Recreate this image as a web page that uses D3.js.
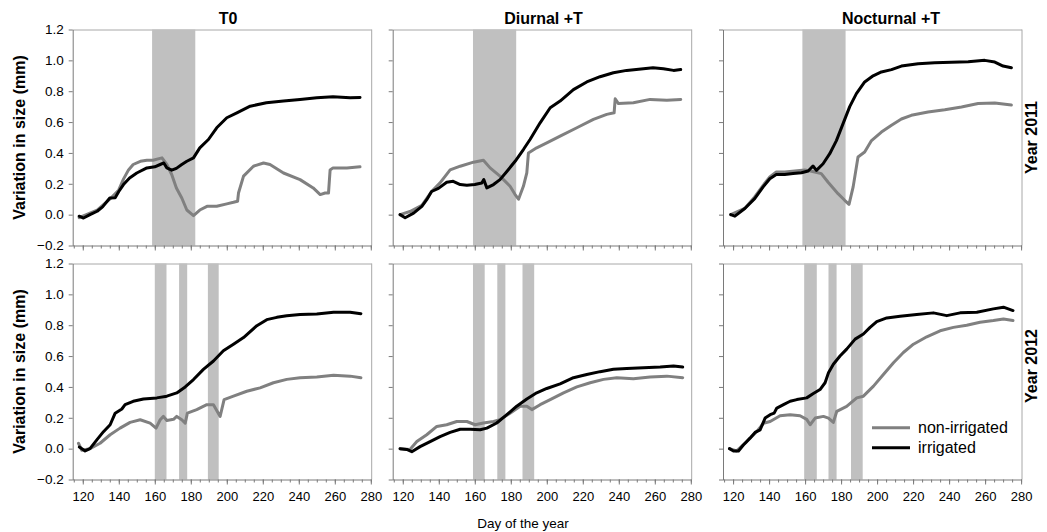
<!DOCTYPE html>
<html><head><meta charset="utf-8">
<script src="https://cdn.jsdelivr.net/npm/d3@7"></script>
<style>
body{margin:0;background:#fff}
svg{display:block}
text{font-family:"Liberation Sans",Arial,sans-serif;fill:#000}
</style>
</head><body>
<svg id="chart" width="1047" height="532"></svg>
<script>
// ---------- DATA ----------
const columnTitles = ["T0", "Diurnal +T", "Nocturnal +T"];
const rowLabels = ["Year 2011", "Year 2012"];
const xTickValues = [120, 140, 160, 180, 200, 220, 240, 260, 280];
const yTickValues = [-0.2, 0.0, 0.2, 0.4, 0.6, 0.8, 1.0, 1.2];
const seriesNames = ["non-irrigated", "irrigated"];

// shaded periods [start day, end day]
const shadeT0_2011 = [[158.5, 182.5]];
const shadeDiurnal_2011 = [[159, 183]];
const shadeNocturnal_2011 = [[158.5, 182.5]];
const shadeT0_2012 = [[160, 166.5], [173.5, 178], [189.5, 195.5]];
const shadeDiurnal_2012 = [[159, 165.5], [172.5, 177], [186.5, 193]];
const shadeNocturnal_2012 = [[159.5, 166.5], [173, 177.5], [185.5, 192]];

// [day, variation in size (mm)]
const t0_2011_irrigated = [[118,-0.01],[120.4,-0.022],[124,0.0],[128,0.022],[131,0.05],[135,0.108],[138,0.11],[140,0.15],[142.6,0.195],[146,0.238],[150,0.27],[155.6,0.303],[160,0.31],[163,0.325],[165,0.335],[166.7,0.303],[169.4,0.288],[172,0.3],[175,0.325],[177.8,0.346],[181.5,0.368],[185,0.433],[189.8,0.487],[194.4,0.563],[200,0.628],[205.6,0.66],[213,0.703],[222,0.725],[231.5,0.736],[240.7,0.747],[250,0.758],[259,0.764],[268.5,0.757],[274,0.76]];
const t0_2011_nonIrrigated = [[118,-0.02],[122,0.0],[128,0.03],[135,0.1],[140,0.16],[142.6,0.23],[145.4,0.29],[148,0.325],[152,0.346],[155.6,0.353],[159,0.353],[164,0.368],[166.7,0.325],[169.4,0.26],[172,0.173],[175,0.108],[177.8,0.03],[181.5,-0.006],[185,0.03],[189,0.054],[194.4,0.054],[200,0.07],[203.7,0.08],[206,0.087],[206.5,0.14],[209.3,0.25],[214.8,0.314],[220.4,0.335],[224,0.325],[231.5,0.27],[240.7,0.227],[248,0.173],[251.9,0.13],[254.6,0.14],[256.5,0.14],[257.4,0.29],[259,0.303],[266.7,0.303],[274,0.31]];

const diurnal_2011_irrigated = [[118.5,0.0],[121.3,-0.02],[126,0.01],[130.6,0.054],[133.3,0.097],[136,0.15],[139.8,0.17],[144.4,0.21],[148,0.216],[151.9,0.195],[155.6,0.19],[160,0.195],[163.9,0.205],[165,0.227],[166.7,0.173],[170.4,0.195],[174,0.227],[177.8,0.28],[182.4,0.346],[187,0.422],[190.7,0.487],[196.3,0.595],[201.9,0.693],[207.4,0.736],[214.8,0.81],[222.2,0.86],[229.6,0.894],[237,0.92],[244.4,0.935],[253.7,0.946],[259,0.952],[264.8,0.946],[270.4,0.935],[274.4,0.94]];
const diurnal_2011_nonIrrigated = [[118.5,0.0],[124,0.02],[130.6,0.06],[136,0.15],[140.7,0.206],[146.3,0.29],[151.9,0.314],[159.3,0.34],[164.8,0.353],[168.5,0.303],[174,0.25],[179.6,0.184],[182.4,0.13],[184.3,0.1],[187,0.184],[188.9,0.27],[189.8,0.4],[194.4,0.433],[200,0.465],[207.4,0.509],[216.7,0.563],[225.9,0.617],[233.3,0.65],[237.4,0.66],[238,0.751],[239.8,0.72],[248.1,0.725],[257.4,0.747],[266.7,0.742],[274.4,0.747]];

const nocturnal_2011_irrigated = [[118.7,0.0],[121,-0.01],[126.5,0.04],[132,0.104],[136.7,0.18],[140.4,0.233],[144,0.26],[148.7,0.26],[153.3,0.266],[158,0.272],[161.7,0.283],[164.4,0.315],[166.3,0.287],[170,0.33],[173.7,0.395],[177.4,0.48],[181.1,0.59],[184.8,0.7],[188.5,0.784],[193.1,0.86],[197.8,0.9],[202.4,0.925],[208,0.94],[213.5,0.963],[222.8,0.978],[232,0.985],[241.3,0.987],[250.6,0.991],[259.8,1.0],[265.4,0.989],[270,0.963],[274.6,0.952]];
const nocturnal_2011_nonIrrigated = [[118.7,0.0],[126.5,0.04],[132,0.115],[136.7,0.19],[140.4,0.244],[144,0.276],[148.7,0.276],[154.3,0.283],[159.8,0.29],[165.4,0.276],[169,0.266],[172.8,0.21],[178.3,0.136],[182,0.093],[184.4,0.067],[186.7,0.18],[189.4,0.374],[193.1,0.406],[196.9,0.48],[202.4,0.535],[208,0.58],[213.5,0.62],[219,0.644],[228.3,0.665],[237.6,0.68],[246.9,0.698],[256.1,0.72],[265.4,0.724],[274.6,0.71]];

const t0_2012_irrigated = [[118.1,0.01],[121.3,-0.015],[124,0.0],[127.8,0.057],[131.5,0.11],[135.2,0.155],[138,0.23],[141.7,0.257],[143.5,0.285],[148,0.307],[153.7,0.322],[161.1,0.329],[166.7,0.34],[172.2,0.361],[176.9,0.4],[181.5,0.448],[187,0.514],[192.6,0.568],[198.1,0.634],[203.7,0.677],[209.3,0.72],[216.7,0.797],[222.2,0.836],[227.8,0.851],[233.3,0.862],[240.7,0.869],[250,0.873],[259.3,0.884],[268.5,0.884],[274.5,0.875]];
const t0_2012_nonIrrigated = [[117.6,0.035],[119.4,-0.01],[124,0.0],[129.6,0.035],[135.2,0.09],[140.7,0.133],[146.3,0.17],[151.9,0.187],[157.4,0.165],[160.7,0.133],[163,0.187],[164.8,0.209],[166.7,0.183],[170.4,0.19],[172.2,0.209],[175,0.187],[176.9,0.165],[178.1,0.23],[183.3,0.253],[188.9,0.285],[192.6,0.285],[196.3,0.209],[198.5,0.318],[203.7,0.34],[211.1,0.372],[218.5,0.394],[225.9,0.427],[233.3,0.449],[240.7,0.46],[250,0.464],[259.3,0.475],[268.5,0.47],[274.5,0.46]];

const diurnal_2012_irrigated = [[118.5,0.0],[122.2,-0.005],[125,-0.02],[129.6,0.013],[135.2,0.046],[140.7,0.078],[146.3,0.105],[151.9,0.126],[157.4,0.126],[163,0.122],[166.7,0.133],[172.2,0.166],[177.8,0.22],[183.3,0.275],[188.9,0.322],[194.4,0.362],[200,0.39],[207.4,0.42],[214.8,0.46],[222.2,0.48],[229.6,0.499],[237,0.514],[244.4,0.52],[253.7,0.525],[263,0.529],[270.4,0.536],[275.5,0.529]];
const diurnal_2012_nonIrrigated = [[118.5,0.0],[124,-0.005],[127.8,0.046],[133.3,0.09],[138.9,0.144],[144.4,0.155],[150,0.176],[155.6,0.176],[160.2,0.155],[164.8,0.166],[170.4,0.176],[174,0.187],[179.6,0.23],[185.2,0.275],[188.9,0.275],[191.7,0.253],[196.3,0.285],[201.9,0.318],[209.3,0.362],[216.7,0.4],[224.1,0.427],[231.5,0.449],[238.9,0.46],[248.1,0.453],[257.4,0.464],[266.7,0.47],[275.5,0.46]];

const nocturnal_2012_irrigated = [[118,0.0],[120.2,-0.015],[123,-0.015],[125.7,0.024],[129.4,0.068],[132.2,0.105],[135,0.122],[137.8,0.198],[140.6,0.22],[142.8,0.23],[144.3,0.263],[148,0.285],[151.7,0.307],[155.4,0.318],[160.9,0.329],[164.6,0.357],[168.3,0.383],[171.1,0.427],[173,0.492],[175.7,0.547],[179.4,0.6],[183.1,0.645],[187.8,0.71],[192.4,0.743],[196.1,0.786],[199.8,0.823],[205.4,0.847],[212.8,0.858],[222,0.869],[231.3,0.88],[238.7,0.862],[246.1,0.88],[255.4,0.884],[264.6,0.906],[270.2,0.917],[275.5,0.895]];
const nocturnal_2012_nonIrrigated = [[118,0.0],[122,-0.015],[127.6,0.046],[133.1,0.11],[136.9,0.165],[140.6,0.176],[146.1,0.213],[151.7,0.22],[157.2,0.213],[160.9,0.19],[162.8,0.155],[165.6,0.198],[170.2,0.209],[173,0.198],[175.7,0.17],[177.6,0.242],[183.1,0.274],[188.7,0.329],[192.4,0.34],[198,0.405],[203.5,0.481],[209.1,0.557],[214.6,0.623],[220.2,0.677],[227.6,0.725],[235,0.764],[242.4,0.786],[249.8,0.8],[257.2,0.819],[264.6,0.83],[270.2,0.84],[275.5,0.83]];

// ---------- LAYOUT ----------
const panelLeft = [72.7, 392.7, 723];
const panelTop = [29.5, 263.5];
const panelW = 299, panelH = 216;
const titleX = [228, 543.5, 891];
const rowLabelY = [137.5, 366];
const colors = {"non-irrigated": "#808080", "irrigated": "#000000"};
const shadeColor = "#c0c0c0";

const panels = [
  {r:0,c:0, shade: shadeT0_2011, data: {"non-irrigated": t0_2011_nonIrrigated, "irrigated": t0_2011_irrigated}},
  {r:0,c:1, shade: shadeDiurnal_2011, data: {"non-irrigated": diurnal_2011_nonIrrigated, "irrigated": diurnal_2011_irrigated}},
  {r:0,c:2, shade: shadeNocturnal_2011, data: {"non-irrigated": nocturnal_2011_nonIrrigated, "irrigated": nocturnal_2011_irrigated}},
  {r:1,c:0, shade: shadeT0_2012, data: {"non-irrigated": t0_2012_nonIrrigated, "irrigated": t0_2012_irrigated}},
  {r:1,c:1, shade: shadeDiurnal_2012, data: {"non-irrigated": diurnal_2012_nonIrrigated, "irrigated": diurnal_2012_irrigated}},
  {r:1,c:2, shade: shadeNocturnal_2012, data: {"non-irrigated": nocturnal_2012_nonIrrigated, "irrigated": nocturnal_2012_irrigated}}
];

const svg = d3.select("#chart");
const x = d3.scaleLinear().domain([114.4, 280.5]).range([0, panelW]);
const y = d3.scaleLinear().domain([-0.2, 1.2]).range([panelH, 0]);
const minorTicks = d3.range(115, 281, 5);
const axisColor = "#7a7a7a", frameColor = "#a8a8a8";

panels.forEach(p => {
  const g = svg.append("g").attr("transform", `translate(${panelLeft[p.c]},${panelTop[p.r]})`);
  // frame top/right
  g.append("line").attr("x1",0).attr("x2",panelW).attr("y1",0.5).attr("y2",0.5).attr("stroke",frameColor);
  g.append("line").attr("x1",panelW).attr("x2",panelW).attr("y1",0).attr("y2",panelH).attr("stroke",frameColor);
  // shading
  g.selectAll("rect.sh").data(p.shade).join("rect").attr("class","sh")
    .attr("x", d => x(d[0])).attr("width", d => x(d[1]) - x(d[0]))
    .attr("y", 0).attr("height", panelH).attr("fill", shadeColor);
  // lines
  const line = d3.line().x(d => x(d[0])).y(d => y(d[1])).curve(d3.curveLinear);
  seriesNames.forEach(s => {
    g.append("path").datum(p.data[s]).attr("d", line).attr("fill","none")
      .attr("stroke", colors[s]).attr("stroke-width", 3).attr("stroke-linejoin","round").attr("stroke-linecap","round");
  });
  // x axis
  const xa = g.append("g").attr("transform", `translate(0,${panelH})`);
  xa.append("g").call(d3.axisBottom(x).tickValues(minorTicks).tickSize(3).tickFormat(""))
    .call(a => a.select(".domain").remove()).selectAll("line").attr("stroke", axisColor);
  const xMajor = xa.append("g").call(d3.axisBottom(x).tickValues(xTickValues).tickSize(5).tickSizeOuter(0)
      .tickFormat(p.r === 1 ? d3.format("d") : ""));
  xMajor.select(".domain").attr("stroke", axisColor).attr("d", `M0,0.5H${panelW}`);
  xMajor.selectAll("line").attr("stroke", axisColor);
  xMajor.selectAll("text").attr("font-size", 13).attr("dy", "1.05em").attr("font-family", '"Liberation Sans",Arial,sans-serif');
  // y axis
  const ya = g.append("g").call(d3.axisLeft(y).tickValues(yTickValues).tickSize(4).tickSizeOuter(0)
      .tickFormat(p.c === 0 ? d3.format(".1f") : ""));
  ya.select(".domain").attr("stroke", axisColor);
  ya.selectAll("line").attr("stroke", axisColor);
  ya.selectAll("text").attr("font-size", 13.5).attr("x", -9).attr("font-family", '"Liberation Sans",Arial,sans-serif');
});

// column titles
columnTitles.forEach((t, i) => {
  svg.append("text").attr("x", titleX[i]).attr("y", 24).attr("text-anchor","middle")
    .attr("font-size", 16).attr("font-weight","bold").text(t);
});
// row labels
rowLabels.forEach((t, i) => {
  svg.append("text").attr("transform", `translate(1031,${rowLabelY[i]}) rotate(-90)`)
    .attr("text-anchor","middle").attr("dy","0.35em")
    .attr("font-size", 16).attr("font-weight","bold").text(t);
});
// y axis titles
panelTop.forEach(t => {
  svg.append("text").attr("transform", `translate(19,${t + panelH/2}) rotate(-90)`)
    .attr("text-anchor","middle").attr("dy","0.35em")
    .attr("font-size", 16).attr("font-weight","bold").text("Variation in size (mm)");
});
// x axis title
svg.append("text").attr("x", 523).attr("y", 528).attr("text-anchor","middle")
  .attr("font-size", 13.5).text("Day of the year");

// legend
const lg = svg.append("g").attr("transform", "translate(872,427.7)");
seriesNames.forEach((s, i) => {
  lg.append("line").attr("x1",0).attr("x2",38).attr("y1", i*20).attr("y2", i*20)
    .attr("stroke", colors[s]).attr("stroke-width", 3);
  lg.append("text").attr("x", 46).attr("y", i*20).attr("dy","0.35em")
    .attr("font-size", 16).text(s);
});
</script>
</body></html>
